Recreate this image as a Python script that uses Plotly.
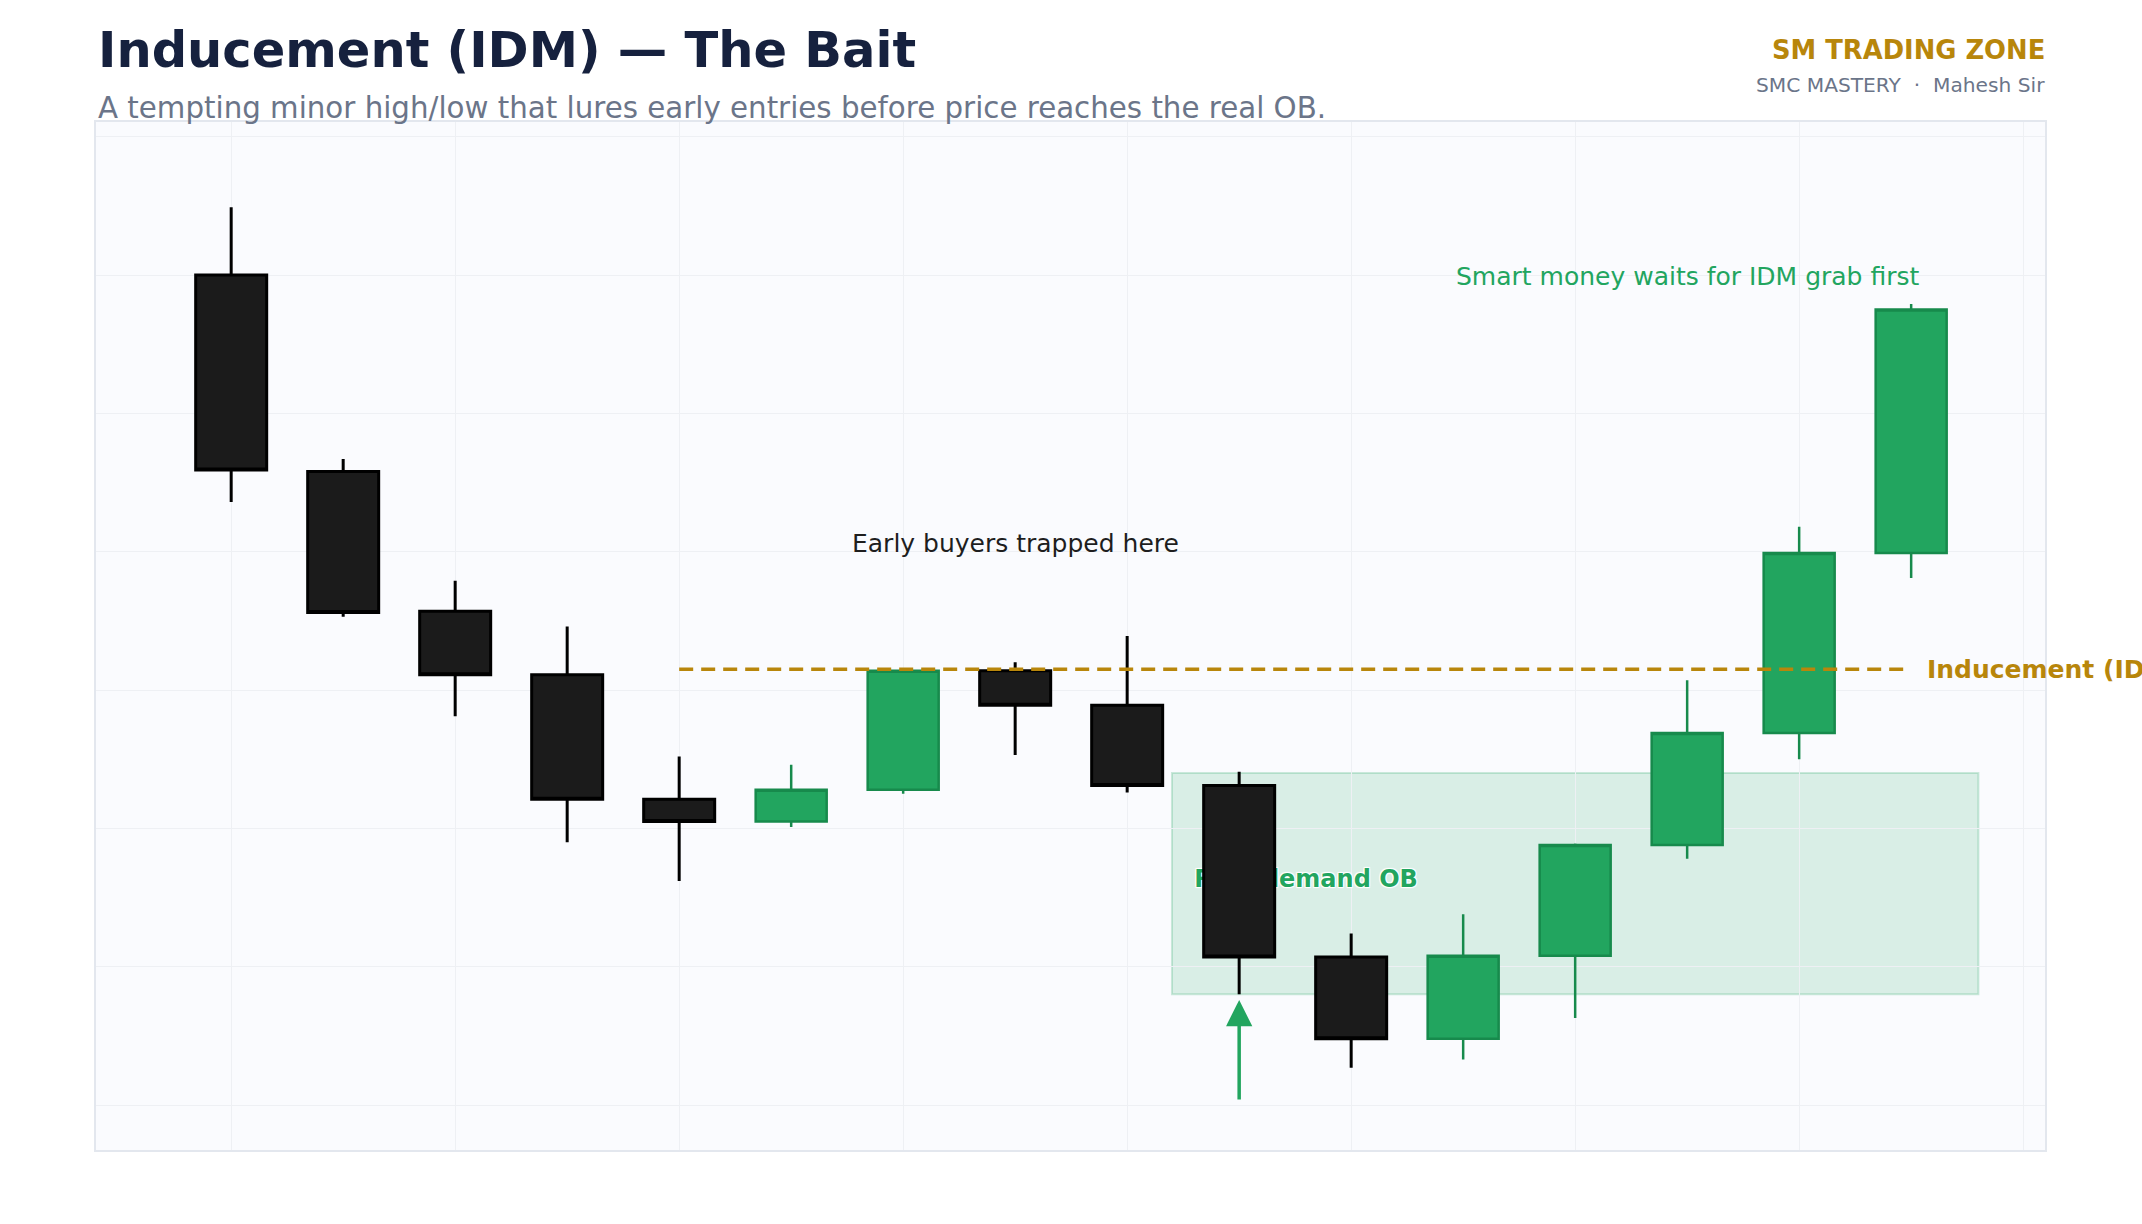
import plotly.graph_objects as go

# ---- data ----
candle_idx = list(range(16))
opens  = [160.0, 145.8, 135.7, 131.1, 122.1, 120.5, 122.8, 131.4, 128.9, 123.1, 110.7, 104.8, 110.8, 118.8, 126.9, 139.9]
highs  = [164.9, 146.7, 137.9, 134.6, 125.2, 124.6, 131.4, 132.0, 133.9, 124.1, 112.4, 113.8, 118.9, 130.7, 141.8, 157.9]
lows   = [143.6, 135.3, 128.1, 119.0, 116.2, 120.1, 122.5, 125.3, 122.6, 108.0, 102.7, 103.3, 106.3, 117.8, 125.0, 138.1]
closes = [145.9, 135.6, 131.1, 122.1, 120.5, 122.8, 131.4, 128.9, 123.1, 110.7, 104.8, 110.8, 118.8, 126.9, 139.9, 157.5]

idm_level = 131.5
idm_span = [4, 15]
ob_zone_y = [108.0, 124.0]
ob_zone_x = [8.4, 15.6]
entry_arrow = {"x": 9, "from": 100.3, "to": 107.6}

labels = {
    "idm": "Inducement (IDM)",
    "trap": "Early buyers trapped here",
    "smart": "Smart money waits for IDM grab first",
    "ob": "Real demand OB",
}
label_pos = {
    "trap": (7.0, 140.6),
    "smart": (13.0, 159.9),
    "ob": (8.6, 116.2),
    "idm": (15.12, idm_level),
}

X_RANGE = [-1.207, 16.195]
Y_RANGE = [96.75, 171.06]

FONT = "DejaVu Sans"
GREEN = "#22a55f"
GREEN_LINE = "#178a4c"
GOLD = "#b8860b"

fig = go.Figure()

# OB label on the base axes, so the candles (on the overlay axes) sit above it
fig.add_trace(go.Scatter(
    x=[label_pos["ob"][0]], y=[label_pos["ob"][1]], mode="text",
    text=["<b>" + labels["ob"] + "</b>"], textposition="middle right",
    textfont=dict(family=FONT, size=24, color=GREEN,
                  shadow="1px 1px 1px #ffffff, -1px -1px 1px #ffffff, 1px -1px 1px #ffffff, -1px 1px 1px #ffffff"),
    hoverinfo="skip", showlegend=False, cliponaxis=False,
    xaxis="x", yaxis="y",
))

fig.add_trace(go.Candlestick(
    x=candle_idx, open=opens, high=highs, low=lows, close=closes,
    increasing=dict(fillcolor=GREEN, line=dict(color=GREEN_LINE, width=2.5)),
    decreasing=dict(fillcolor="#1b1b1b", line=dict(color="#000000", width=3)),
    whiskerwidth=0, showlegend=False,
    xaxis="x2", yaxis="y2",
))

fig.add_trace(go.Scatter(
    x=idm_span, y=[idm_level, idm_level], mode="lines",
    line=dict(color=GOLD, width=3.5, dash="14px,8px"),
    hoverinfo="skip", showlegend=False,
    xaxis="x2", yaxis="y2",
))

fig.add_shape(
    type="rect", xref="x", yref="y",
    x0=ob_zone_x[0], x1=ob_zone_x[1], y0=ob_zone_y[0], y1=ob_zone_y[1],
    fillcolor="rgba(34,165,95,0.15)", line=dict(color="rgba(34,165,95,0.22)", width=2),
    layer="below",
)

annotations = [
    dict(x=label_pos["idm"][0], y=label_pos["idm"][1], xref="x", yref="y",
         text="<b>" + labels["idm"] + "</b>", showarrow=False, xanchor="left", yanchor="middle",
         font=dict(family=FONT, size=25, color=GOLD)),
    dict(x=label_pos["trap"][0], y=label_pos["trap"][1], xref="x", yref="y",
         text=labels["trap"], showarrow=False, xanchor="center", yanchor="middle",
         font=dict(family=FONT, size=25, color="#1e1e1e")),
    dict(x=label_pos["smart"][0], y=label_pos["smart"][1], xref="x", yref="y",
         text=labels["smart"], showarrow=False, xanchor="center", yanchor="middle",
         font=dict(family=FONT, size=25, color=GREEN)),
    dict(x=entry_arrow["x"], y=entry_arrow["to"], ax=entry_arrow["x"], ay=entry_arrow["from"],
         xref="x", yref="y", axref="x", ayref="y", text="", showarrow=True,
         arrowhead=2, arrowsize=1.5, arrowwidth=3.5, arrowcolor=GREEN, standoff=0),
    # header
    dict(x=0, y=1.0696, xref="paper", yref="paper", xanchor="left", yanchor="middle",
         text="<b>Inducement (IDM) — The Bait</b>", showarrow=False,
         font=dict(family=FONT, size=49.5, color="#16213e")),
    dict(x=0, y=1.0135, xref="paper", yref="paper", xanchor="left", yanchor="middle",
         text="A tempting minor high/low that lures early entries before price reaches the real OB.",
         showarrow=False, font=dict(family=FONT, size=29.3, color="#6b7589")),
    dict(x=1, y=1.0696, xref="paper", yref="paper", xanchor="right", yanchor="middle", xshift=2,
         text="<b>SM TRADING ZONE</b>", showarrow=False,
         font=dict(family=FONT, size=25.8, color=GOLD)),
    dict(x=1, y=1.0363, xref="paper", yref="paper", xanchor="right", yanchor="middle", xshift=2,
         text="SMC MASTERY  ·  Mahesh Sir", showarrow=False,
         font=dict(family=FONT, size=20.2, color="#6b7589")),
]

fig.update_layout(
    width=2142, height=1224,
    margin=dict(l=96, r=97, t=122, b=74),
    paper_bgcolor="#ffffff", plot_bgcolor="#fafbfe",
    annotations=annotations,
    boxgap=0.366, boxgroupgap=0,
    showlegend=False,
    font=dict(family=FONT),
    xaxis=dict(
        range=X_RANGE, dtick=2, tick0=0, showticklabels=False,
        showgrid=True, gridcolor="#eef0f4", gridwidth=1, zeroline=False,
        showline=True, linecolor="#e3e7ee", linewidth=2, mirror=True,
        rangeslider=dict(visible=False), ticks="",
    ),
    yaxis=dict(
        range=Y_RANGE, dtick=10, tick0=100, showticklabels=False,
        showgrid=True, gridcolor="#eef0f4", gridwidth=1, zeroline=False,
        showline=True, linecolor="#e3e7ee", linewidth=2, mirror=True, ticks="",
    ),
    xaxis2=dict(
        range=X_RANGE, overlaying="x", matches="x", showticklabels=False, showgrid=False,
        zeroline=False, showline=False, ticks="", rangeslider=dict(visible=False),
    ),
    yaxis2=dict(
        range=Y_RANGE, overlaying="y", matches="y", showticklabels=False, showgrid=False,
        zeroline=False, showline=False, ticks="",
    ),
)

fig.write_html("out.html")
